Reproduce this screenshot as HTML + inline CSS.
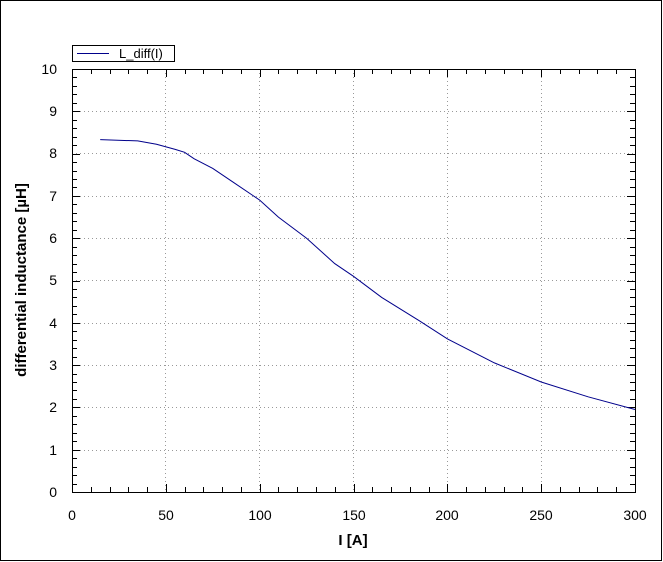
<!DOCTYPE html>
<html><head><style>body{margin:0;background:#fff}svg{display:block}text{font-family:"Liberation Sans",Arial,sans-serif}</style></head>
<body>
<svg width="663" height="562" viewBox="0 0 663 562" xmlns="http://www.w3.org/2000/svg">
<rect x="0.5" y="0.5" width="661" height="560" fill="#fff" stroke="#000"/>
<g stroke="#999" stroke-dasharray="1,3" stroke-width="1">
<path d="M165.5 69V492M259.5 69V492M353.5 69V492M447.5 69V492M541.5 69V492"/>
<path d="M72 111.5H635M72 153.5H635M72 196.5H635M72 238.5H635M72 280.5H635M72 323.5H635M72 365.5H635M72 407.5H635M72 450.5H635"/>
</g>
<g id="ticks" stroke="#000" stroke-width="1"></g>
<rect x="72.5" y="69.5" width="563" height="423" fill="none" stroke="#000"/>
<polyline fill="none" stroke="#00008b" stroke-width="1" points="100.2,139.6 137.7,140.9 156.5,144.3 175.2,149.4 184.6,152.3 194,158.7 212.8,168.4 231.5,181.1 259.7,200.1 278.4,217.1 306.6,238.2 334.7,263.6 353.5,276.3 381.7,297.4 419.2,320.7 447.5,338.9 494.4,362.9 541.2,382 588.1,396.8 635,409.5"/>
<rect x="72.5" y="45.5" width="102" height="16" fill="#fff" stroke="#000"/>
<line x1="77" y1="53.5" x2="109" y2="53.5" stroke="#00008b"/>
<text x="119" y="58" font-size="13">L_diff(I)</text>
<g font-size="14" text-anchor="end">
<text x="57" y="497">0</text><text x="57" y="455">1</text><text x="57" y="412">2</text><text x="57" y="370">3</text><text x="57" y="328">4</text><text x="57" y="285">5</text><text x="57" y="243">6</text><text x="57" y="201">7</text><text x="57" y="158">8</text><text x="57" y="116">9</text><text x="57" y="74">10</text>
</g>
<g font-size="14" text-anchor="middle">
<text x="72" y="520">0</text><text x="166" y="520">50</text><text x="260" y="520">100</text><text x="354" y="520">150</text><text x="447" y="520">200</text><text x="541" y="520">250</text><text x="635" y="520">300</text>
</g>
<text x="353" y="545" font-size="15" font-weight="bold" text-anchor="middle">I [A]</text>
<text transform="translate(26,280) rotate(-90)" font-size="15" font-weight="bold" text-anchor="middle">differential inductance [µH]</text>
</svg>
<script>
var g=document.getElementById('ticks'),d='';
for(var i=0;i<=30;i++){var x=Math.round(72+i*18.767)+0.5,L=i%5==0?8:5;d+='M'+x+' 492V'+(492-L)+'M'+x+' 69V'+(69+L);}
for(var j=0;j<=50;j++){var y=Math.round(492-j*8.46)+0.5,L=j%5==0?8:5;d+='M72 '+y+'H'+(72+L)+'M635 '+y+'H'+(635-L);}
var p=document.createElementNS('http://www.w3.org/2000/svg','path');p.setAttribute('d',d);g.appendChild(p);
</script>
</body></html>
